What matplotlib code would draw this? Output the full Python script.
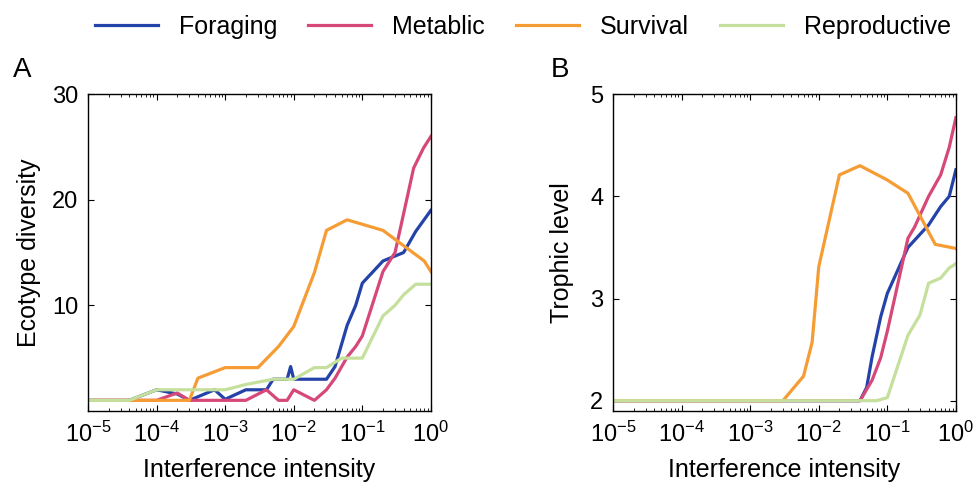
import matplotlib.pyplot as plt
from matplotlib.ticker import LogLocator, NullFormatter, FixedLocator

plt.rcParams['font.family'] = ['Liberation Sans', 'DejaVu Sans']
plt.rcParams['mathtext.fontset'] = 'custom'
plt.rcParams['mathtext.rm'] = 'Liberation Sans'
plt.rcParams['mathtext.it'] = 'Liberation Sans'

labels = ["Foraging", "Metablic", "Survival", "Reproductive"]
colors = ["#2443a8", "#d6487a", "#f59c34", "#c4e09c"]

# panel A : ecotype diversity
a_for_x = [1e-5, 4e-5, 1e-4, 2e-4, 3e-4, 7e-4, 1e-3, 2e-3, 4e-3, 5e-3, 8e-3, 9e-3, 1e-2, 3e-2, 4e-2,
           6e-2, 8e-2, 1e-1, 2e-1, 4e-1, 6e-1, 1]
a_for_y = [1, 1, 2, 1.6, 1, 2, 1.1, 2, 2, 3, 3, 4.2, 3, 3, 4.2, 8.1, 10, 12.1, 14.2, 15, 17, 19]
a_met_x = [1e-5, 1e-4, 2e-4, 3e-4, 2e-3, 4e-3, 6e-3, 8e-3, 1e-2, 2e-2, 3e-2, 4e-2, 6e-2, 8e-2, 1e-1,
           2e-1, 3e-1, 5.6e-1, 7.8e-1, 1]
a_met_y = [1, 1, 1.7, 1, 1, 2, 1, 1, 2, 1, 2, 3.1, 5.1, 6.1, 7.1, 13.2, 15, 23, 24.9, 26]
a_sur_x = [1e-5, 3e-4, 4e-4, 1e-3, 3e-3, 6e-3, 1e-2, 2e-2, 3e-2, 6e-2, 2e-1, 8e-1, 1]
a_sur_y = [1, 1, 3.1, 4.1, 4.1, 6.1, 8, 13.1, 17.1, 18.1, 17.1, 14.2, 13.2]
a_rep_x = [1e-5, 4e-5, 1e-4, 1e-3, 2e-3, 5e-3, 1e-2, 2e-2, 3e-2, 5e-2, 1e-1, 2e-1, 3e-1, 4e-1, 6e-1, 1]
a_rep_y = [1, 1, 2, 2, 2.5, 3, 3, 4.1, 4.1, 5, 5, 9, 10, 11, 12, 12]

# panel B : trophic level
b_for_x = [1e-5, 4e-2, 5e-2, 6e-2, 8e-2, 1e-1, 2e-1, 4e-1, 6e-1, 8e-1, 1]
b_for_y = [2, 2, 2.13, 2.43, 2.82, 3.05, 3.5, 3.72, 3.9, 4.0, 4.26]
b_met_x = [1e-5, 4e-2, 6e-2, 8e-2, 1e-1, 2e-1, 2.5e-1, 4e-1, 6e-1, 8e-1, 1]
b_met_y = [2, 2, 2.2, 2.42, 2.68, 3.59, 3.7, 4.0, 4.21, 4.48, 4.77]
b_sur_x = [1e-5, 3e-3, 6e-3, 8e-3, 1e-2, 2e-2, 4e-2, 1e-1, 2e-1, 5e-1, 1]
b_sur_y = [2, 2, 2.24, 2.57, 3.31, 4.21, 4.3, 4.16, 4.03, 3.53, 3.49]
b_rep_x = [1e-5, 7e-2, 1e-1, 2e-1, 3e-1, 4e-1, 6e-1, 8e-1, 1]
b_rep_y = [2, 2, 2.03, 2.64, 2.84, 3.15, 3.2, 3.3, 3.34]

fig = plt.figure(figsize=(9.74, 4.88), dpi=100)
axA = fig.add_axes([0.0904, 0.158, 0.352, 0.649])
axB = fig.add_axes([0.6294, 0.158, 0.352, 0.649])

seriesA = [(a_for_x, a_for_y), (a_met_x, a_met_y), (a_sur_x, a_sur_y), (a_rep_x, a_rep_y)]
seriesB = [(b_for_x, b_for_y), (b_met_x, b_met_y), (b_sur_x, b_sur_y), (b_rep_x, b_rep_y)]

for (x, y), c, lab in zip(seriesA, colors, labels):
    axA.plot(x, y, color=c, lw=2.3, label=lab)
for (x, y), c in zip(seriesB, colors):
    axB.plot(x, y, color=c, lw=2.3)

for ax in (axA, axB):
    ax.set_xscale("log")
    ax.set_xlim(1e-5, 1)
    ax.xaxis.set_major_locator(LogLocator(base=10, numticks=10))
    ax.xaxis.set_minor_locator(LogLocator(base=10, subs=range(2, 10), numticks=20))
    ax.xaxis.set_minor_formatter(NullFormatter())
    ax.tick_params(which="both", direction="in", top=True, right=True, labelsize=17)
    ax.tick_params(which="major", length=4, width=0.8)
    ax.tick_params(which="minor", length=2, width=0.6)
    ax.tick_params(axis="x", pad=8)
    ax.tick_params(axis="y", pad=7)
    ax.set_xlabel("Interference intensity", fontsize=18, labelpad=8)
    for s in ax.spines.values():
        s.set_linewidth(1.0)

axA.set_ylim(0, 30)
axA.yaxis.set_major_locator(FixedLocator([10, 20, 30]))
axA.set_ylabel("Ecotype diversity", fontsize=18, labelpad=8)

axB.set_ylim(1.9, 5)
axB.yaxis.set_major_locator(FixedLocator([2, 3, 4, 5]))
axB.set_ylabel("Trophic level", fontsize=18, labelpad=12)

fig.text(0.013, 0.842, "A", fontsize=20)
fig.text(0.565, 0.842, "B", fontsize=20)

fig.legend(loc="upper center", bbox_to_anchor=(0.537, 1.015), ncol=4, frameon=False,
           fontsize=18, handlelength=2.5, columnspacing=1.25, handletextpad=0.85)

plt.savefig("out.png", dpi=100)
